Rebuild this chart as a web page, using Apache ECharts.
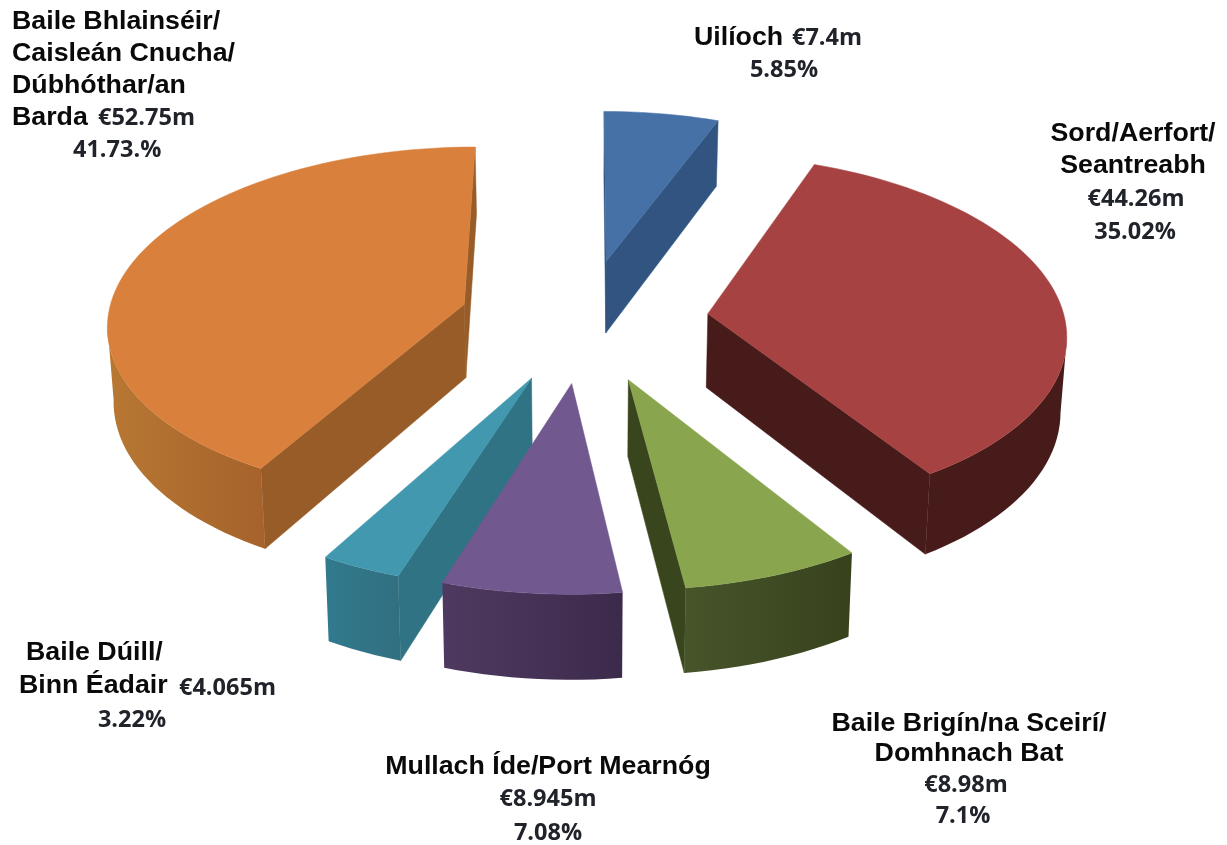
<!DOCTYPE html>
<html>
<head>
<meta charset="utf-8">
<style>html,body{margin:0;padding:0;background:#fff}#c{width:1227px;height:845px}</style>
<script src="https://cdn.jsdelivr.net/npm/echarts@6/dist/echarts.min.js"></script>
</head>
<body>
<div id="c"></div>
<script>
// ---- data ----
const categories = ['Uilíoch','Sord/Aerfort/Seantreabh','Baile Brigín/na Sceirí/Domhnach Bat','Mullach Íde/Port Mearnóg','Baile Dúill/Binn Éadair','Baile Bhlainséir/Caisleán Cnucha/Dúbhóthar/an Barda'];
const valuesMillions = [7.4, 44.26, 8.98, 8.945, 4.065, 52.75];
const amountLabels = ['€7.4m','€44.26m','€8.98m','€8.945m','€4.065m','€52.75m'];
const percentLabels = ['5.85%','35.02%','7.1%','7.08%','3.22%','41.73.%'];

// ---- styles ----
const topColors  = ['#4571a7','#a64342','#89a54e','#71588f','#4198af','#d9813c'];
const wallColors = ['#315580','#471b1a','#39451c','#3c2a4b','#2f7385','#985c29'];
const rimColors  = [['#315580','#315580'],['#471b1a','#471b1a'],['#47552b','#37421c'],['#4e3a60','#3c2a4b'],['#317a8e','#326f80'],['#b87833','#a5622b']];
const drawRank   = [0,1,2,4,3,5];

// ---- projection of the exploded 3D pie ----
const view = {cx:584, cy:320, rx:357, rz:176, k:0.1, depth:74, bottomX:0.987, explode:0.35};
function project(X, Z, down){
  const s = 1/(1 - view.k*Z);
  const x = X*view.rx*s;
  return [view.cx + (down ? x*view.bottomX : x), view.cy + Z*view.rz*s + (down?view.depth*s:0)];
}
const total = valuesMillions.reduce((a,b)=>a+b,0);
const startAngles = [];
valuesMillions.reduce((acc,v,i)=>{startAngles[i]=acc;return acc+v/total*Math.PI*2;},0);

function renderSlice(params, api){
  const i = params.dataIndex, v = api.value(0);
  const a0 = startAngles[i], a1 = a0 + v/total*Math.PI*2, mid = (a0+a1)/2;
  const ax = Math.sin(mid)*view.explode, az = -Math.cos(mid)*view.explode;
  const pt = (a,down)=>project(ax+Math.sin(a), az-Math.cos(a), down);
  const apexT = project(ax,az,false), apexB = project(ax,az,true);
  const n = Math.max(6, Math.ceil((a1-a0)/(Math.PI/90)));
  const arc = [], arcB = [];
  for(let j=0;j<=n;j++){const a=a0+(a1-a0)*j/n;arc.push(pt(a,false));arcB.push(pt(a,true));}
  const base = drawRank[i]*10, children = [];
  // side walls that face the viewer
  [[arc[0],arcB[0]],[arc[n],arcB[n]]].forEach(e=>{
    const P=e[0], Q=arc[Math.floor(n/2)];
    const ex=P[0]-apexT[0], ey=P[1]-apexT[1];
    const side=ex*(Q[1]-apexT[1])-ey*(Q[0]-apexT[0]);
    if(side*ex<0){
      children.push({type:'polygon',z2:base+1,shape:{points:[apexT,P,e[1],apexB]},style:{fill:wallColors[i],stroke:wallColors[i],lineWidth:0.5}});
    }
  });
  // curved outer rim, front part only
  let from=-1,to=-1;
  for(let j=0;j<n;j++){ if(arc[j+1][0]<arc[j][0]){ if(from<0)from=j; to=j+1; } }
  if(from>=0){
    const pts=arc.slice(from,to+1).concat(arcB.slice(from,to+1).reverse());
    children.push({type:'polygon',z2:base+2,shape:{points:pts},style:{stroke:null,
      fill:new echarts.graphic.LinearGradient(0,0,1,0,[{offset:0,color:rimColors[i][0]},{offset:1,color:rimColors[i][1]}])}});
  }
  // top face
  children.push({type:'polygon',z2:base+3,shape:{points:[apexT].concat(arc)},style:{fill:topColors[i],stroke:topColors[i],lineWidth:0.5}});
  return {type:'group',children};
}

// ---- labels ----
const nameFont = {fontFamily:'"Liberation Sans",Arial,sans-serif',fontWeight:'bold',fontSize:25,fill:'#0a0a0a',stretch:1.07};
const numFont  = {fontFamily:'"Open Sans",sans-serif',fontWeight:'bold',fontSize:23.5,fill:'#20232a',stretch:1};
function t(text,x,y,font,align){
  const {stretch,...style}=font;
  return {type:'text',x:x,y:y+2,scaleX:stretch,silent:true,style:Object.assign({text:text,textAlign:align||'left',textVerticalAlign:'middle'},style)};
}
const labelElements = [
  t('Uilíoch',694,36,nameFont), t(amountLabels[0],792,36,numFont), t(percentLabels[0],784,68,numFont,'center'),
  t('Sord/Aerfort/',1133,132,nameFont,'center'), t('Seantreabh',1133,164,nameFont,'center'),
  t(amountLabels[1],1136,197,numFont,'center'), t(percentLabels[1],1135,230,numFont,'center'),
  t('Baile Brigín/na Sceirí/',969,722,nameFont,'center'), t('Domhnach Bat',969,752,nameFont,'center'),
  t(amountLabels[2],966,783,numFont,'center'), t(percentLabels[2],963,814,numFont,'center'),
  t('Mullach Íde/Port Mearnóg',548,765,nameFont,'center'),
  t(amountLabels[3],548,797,numFont,'center'), t(percentLabels[3],548,831,numFont,'center'),
  t('Baile Dúill/',26,651,nameFont), t('Binn Éadair',19,684,nameFont),
  t(amountLabels[4],179,686,numFont), t(percentLabels[4],132,718,numFont,'center'),
  t('Baile Bhlainséir/',12,20,nameFont), t('Caisleán Cnucha/',12,52,nameFont), t('Dúbhóthar/an',12,84,nameFont),
  t('Barda',12,116,nameFont), t(amountLabels[5],98,116,numFont), t(percentLabels[5],73,148,numFont)
];

const chart = echarts.init(document.getElementById('c'),null,{renderer:'canvas'});
chart.setOption({
  animation:false,
  backgroundColor:'#fff',
  graphic:{elements:labelElements},
  series:[{
    type:'custom',
    coordinateSystem:'none',
    renderItem:renderSlice,
    data:valuesMillions.map((v,i)=>({name:categories[i],value:[v]}))
  }]
});
</script>
</body>
</html>
